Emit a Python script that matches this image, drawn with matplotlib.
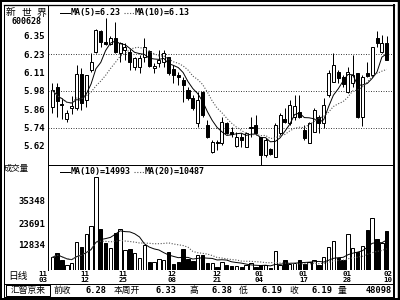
import matplotlib
matplotlib.use("Agg")
import matplotlib.pyplot as plt
import matplotlib.transforms as mtrans
import numpy as np
import pandas as pd

# 日K线数据, 70根
opens = [5.88, 6.01, 5.90, 5.80, 5.87, 5.87, 6.10, 5.925, 6.124, 6.244,
         6.383, 6.31, 6.30, 6.337, 6.237, 6.257, 6.244, 6.144, 6.144, 6.211,
         6.25, 6.138, 6.171, 6.177, 6.211, 6.131, 6.091, 6.058, 5.991, 5.938,
         5.772, 5.978, 5.759, 5.580, 5.647, 5.640, 5.772, 5.713, 5.62, 5.679,
         5.613, 5.739, 5.759, 5.679, 5.560, 5.60, 5.547, 5.706, 5.799, 5.772,
         5.812, 5.846, 5.726, 5.640, 5.713, 5.812, 5.772, 5.958, 6.045, 6.111,
         6.078, 5.978, 6.038, 6.104, 5.812, 6.104, 6.091, 6.337, 6.244, 6.304]
highs = [6.04, 6.04, 5.94, 5.86, 5.95, 6.16, 6.14, 6.09, 6.237, 6.397,
         6.39, 6.47, 6.35, 6.443, 6.31, 6.304, 6.27, 6.211, 6.224, 6.337,
         6.257, 6.171, 6.257, 6.257, 6.211, 6.157, 6.111, 6.078, 6.011, 5.958,
         5.978, 5.985, 5.79, 5.659, 5.659, 5.812, 5.779, 5.746, 5.713, 5.706,
         5.713, 5.812, 5.825, 5.679, 5.673, 5.606, 5.772, 5.839, 5.872, 5.925,
         5.958, 5.958, 5.759, 5.779, 5.872, 5.825, 5.938, 6.124, 6.237, 6.124,
         6.091, 6.144, 6.224, 6.104, 6.091, 6.177, 6.277, 6.383, 6.357, 6.35]
lows = [5.84, 5.81, 5.80, 5.78, 5.83, 5.86, 5.86, 5.88, 6.111, 6.237,
        6.277, 6.29, 6.29, 6.24, 6.177, 6.191, 6.124, 6.124, 6.104, 6.177,
        6.144, 6.104, 6.144, 6.144, 6.091, 6.038, 6.025, 5.912, 5.925, 5.859,
        5.746, 5.81, 5.67, 5.573, 5.593, 5.626, 5.70, 5.679, 5.613, 5.613,
        5.613, 5.679, 5.693, 5.49, 5.547, 5.560, 5.547, 5.693, 5.772, 5.759,
        5.792, 5.806, 5.659, 5.64, 5.713, 5.706, 5.739, 5.945, 6.045, 6.038,
        6.011, 5.972, 6.011, 5.806, 5.752, 6.078, 6.078, 6.277, 6.237, 6.191]
closes = [5.99, 5.92, 5.89, 5.84, 5.885, 6.10, 5.905, 6.09, 6.177, 6.39,
          6.31, 6.30, 6.337, 6.244, 6.304, 6.277, 6.177, 6.204, 6.204, 6.277,
          6.151, 6.151, 6.191, 6.237, 6.104, 6.091, 6.078, 6.025, 5.938, 5.872,
          5.925, 5.825, 5.679, 5.646, 5.640, 5.779, 5.706, 5.700, 5.679, 5.659,
          5.706, 5.746, 5.706, 5.560, 5.659, 5.566, 5.759, 5.825, 5.779, 5.892,
          5.885, 5.812, 5.673, 5.772, 5.859, 5.772, 5.892, 6.104, 6.157, 6.071,
          6.031, 6.111, 6.091, 5.812, 6.078, 6.084, 6.277, 6.304, 6.304, 6.191]
volumes = [6400, 8900, 4900, 2550, 3700, 14400, 11900, 18400, 22500, 47400,
           20800, 13600, 11100, 18700, 21100, 10200, 10600, 8800, 6000, 12750,
           4200, 4200, 5500, 5100, 9200, 3100, 4000, 10600, 5500, 4400,
           7650, 7400, 3400, 3700, 1400, 4200, 2300, 1800, 1900, 1400,
           2550, 3400, 1400, 2550, 2800, 870, 9800, 2550, 5100, 3100,
           3400, 5100, 3100, 4100, 5100, 2550, 6500, 11600, 14900, 6300,
           5300, 18400, 11100, 9300, 12400, 20400, 26400, 15800, 13600, 20000]

price_ticks = [5.620, 5.742, 5.863, 5.985, 6.107, 6.228, 6.350]
price_tick_labels = ["5.62", "5.74", "5.86", "5.98", "6.11", "6.23", "6.35"]
price_grid = [5.742, 5.985, 6.228]
vol_ticks = [12834, 23691, 35348]
date_months = ["11", "11", "11", "12", "12", "01", "01", "01", "02"]
date_days = ["03", "12", "25", "08", "21", "04", "17", "28", "10"]
date_pos = [-1.86, 6.75, 14.65, 24.64, 33.92, 42.72, 51.8, 60.75, 69.2]

price_ma_text = ["MA(5)=6.23", "MA(10)=6.13"]
vol_ma_text = ["MA(10)=14993", "MA(20)=10487"]
status_names = ["前收", "本周开", "高", "低", "收", "量"]
status_values = ["6.28", "6.33", "6.38", "6.19", "6.19", "48098"]

MONO = "DejaVu Sans Mono"
CJK = ["Noto Sans CJK SC", "DejaVu Sans"]
PX = 0.72  # 1 像素线宽

o = np.array(opens)
h = np.array(highs)
l = np.array(lows)
c = np.array(closes)
v = np.array(volumes)
x = np.arange(len(c))
up = c >= o

fig = plt.figure(figsize=(4, 3), dpi=100)
fig.patch.set_facecolor("white")

# 价格区
ax1 = fig.add_axes([48 / 400, 1 - 165 / 300, 345 / 400, 160 / 300])
ax1.set_xlim(-0.887, 70.3)
ax1.set_ylim(5.4934, 6.5558)
for g in price_grid:
    ax1.axhline(g, color="#444444", lw=PX, ls=(0, (1, 1.5)), zorder=1)
ax1.vlines(x, l, h, color="black", lw=PX, zorder=2)
body_bot = np.minimum(o, c)
body_h = np.maximum(np.abs(c - o), 0.004)
ax1.bar(x[up], body_h[up], bottom=body_bot[up], width=0.62,
        color="white", edgecolor="black", lw=PX, zorder=3)
ax1.bar(x[~up], body_h[~up], bottom=body_bot[~up], width=0.62,
        color="black", edgecolor="black", lw=PX, zorder=3)
ma5 = pd.Series(c).rolling(5, min_periods=1).mean()
ma10 = pd.Series(c).rolling(10, min_periods=1).mean()
ax1.plot(x, ma5, color="black", lw=0.7, zorder=4)
ax1.plot(x, ma10, color="#555555", lw=0.8, ls=(0, (1, 1.5)), zorder=4)
ax1.set_yticks(price_ticks, price_tick_labels)
ax1.set_xticks([])

# 成交量区
ax2 = fig.add_axes([48 / 400, 1 - 270 / 300, 345 / 400, 105 / 300])
ax2.set_xlim(-0.887, 70.3)
ax2.set_ylim(0, 53550)
ax2.bar(x[up], v[up], width=0.7, color="white", edgecolor="black", lw=PX, zorder=3)
ax2.bar(x[~up], v[~up], width=0.7, color="black", edgecolor="black", lw=PX, zorder=3)
vma10 = pd.Series(v).rolling(10, min_periods=1).mean()
vma20 = pd.Series(v).rolling(20, min_periods=1).mean()
ax2.plot(x, vma10, color="black", lw=0.7, zorder=4)
ax2.plot(x, vma20, color="#555555", lw=0.8, ls=(0, (1, 1.5)), zorder=4)
ax2.set_yticks(vol_ticks, [str(t) for t in vol_ticks])
ax2.set_xticks([])

# 日期 (月/日两行)
trans = mtrans.blended_transform_factory(ax2.transData, fig.transFigure)
for p, mo, dy in zip(date_pos, date_months, date_days):
    ax2.text(p, 1 - 274.3 / 300, mo, transform=trans, ha="center", va="center",
             fontsize=5.3, family=MONO, weight="bold", clip_on=False)
    ax2.text(p, 1 - 279.6 / 300, dy, transform=trans, ha="center", va="center",
             fontsize=5.3, family=MONO, weight="bold", clip_on=False)

for ax in (ax1, ax2):
    ax.set_facecolor("none")
    for s in ax.spines.values():
        s.set_visible(False)
    ax.tick_params(axis="y", length=0, pad=2.2)
    for t in ax.get_yticklabels():
        t.set_fontfamily(MONO)
        t.set_fontweight("bold")
        t.set_fontsize(6.5)

# 边框和文字 (像素坐标)
ov = fig.add_axes([0, 0, 1, 1])
ov.set_xlim(0, 400)
ov.set_ylim(300, 0)
ov.axis("off")
ov.patch.set_visible(False)

ov.plot([0, 400], [1, 1], color="black", lw=2 * PX)
ov.plot([0, 400], [299, 299], color="black", lw=2 * PX)
ov.plot([1, 1], [0, 300], color="black", lw=2 * PX)
ov.plot([398.5, 398.5], [0, 300], color="black", lw=2.5 * PX)
ov.plot([4, 394], [4.7, 4.7], color="black", lw=1.3 * PX)
ov.plot([4, 394], [296.8, 296.8], color="black", lw=PX)
ov.plot([4, 4], [4.7, 296.8], color="black", lw=PX)
ov.plot([393.7, 393.7], [4.7, 296.8], color="black", lw=2 * PX)
ov.plot([48, 48], [4.7, 270], color="black", lw=PX)
ov.plot([48, 394], [165, 165], color="black", lw=PX)
ov.plot([4, 394], [283.5, 283.5], color="black", lw=PX)
ov.plot([5.5, 50, 50, 5.5, 5.5], [284.5, 284.5, 296, 296, 284.5], color="black", lw=PX)

for ch, cx in zip("新世界", [10.5, 26.7, 41.7]):
    ov.text(cx, 12.5, ch, ha="center", va="center", fontsize=7, family=CJK)
ov.text(27, 21.5, "600628", ha="center", va="center", fontsize=6,
        family=MONO, weight="bold")
ov.text(16, 168, "成交量", ha="center", va="center", fontsize=6, family=CJK)
ov.text(18.5, 276.5, "日线", ha="center", va="center", fontsize=7, family=CJK)

# 均线图例
for y0, texts in ((13, price_ma_text), (171.5, vol_ma_text)):
    ov.plot([60, 70], [y0, y0], color="black", lw=PX)
    ov.text(71, y0, texts[0], ha="left", va="center", fontsize=6,
            family=MONO, weight="bold")
    x2 = 71 + 5 * len(texts[0]) + 3
    ov.plot([x2, x2 + 10], [y0, y0], color="#555555", lw=0.8, ls=(0, (1, 1.5)))
    ov.text(x2 + 11, y0, texts[1], ha="left", va="center", fontsize=6,
            family=MONO, weight="bold")

# 状态栏
ov.text(27.7, 290.6, "汇智京来", ha="center", va="center", fontsize=6.3, family=CJK)
name_x = [54, 114, 189, 239, 289, 338]
value_x = [106, 177, 232, 282, 332, 392]
for nm, nx in zip(status_names, name_x):
    ov.text(nx, 290.6, nm, ha="left", va="center", fontsize=6.3, family=CJK)
for val, vx in zip(status_values, value_x):
    ov.text(vx, 290.6, val, ha="right", va="center", fontsize=6.2,
            family=MONO, weight="bold")

fig.savefig("out.png", dpi=100)
